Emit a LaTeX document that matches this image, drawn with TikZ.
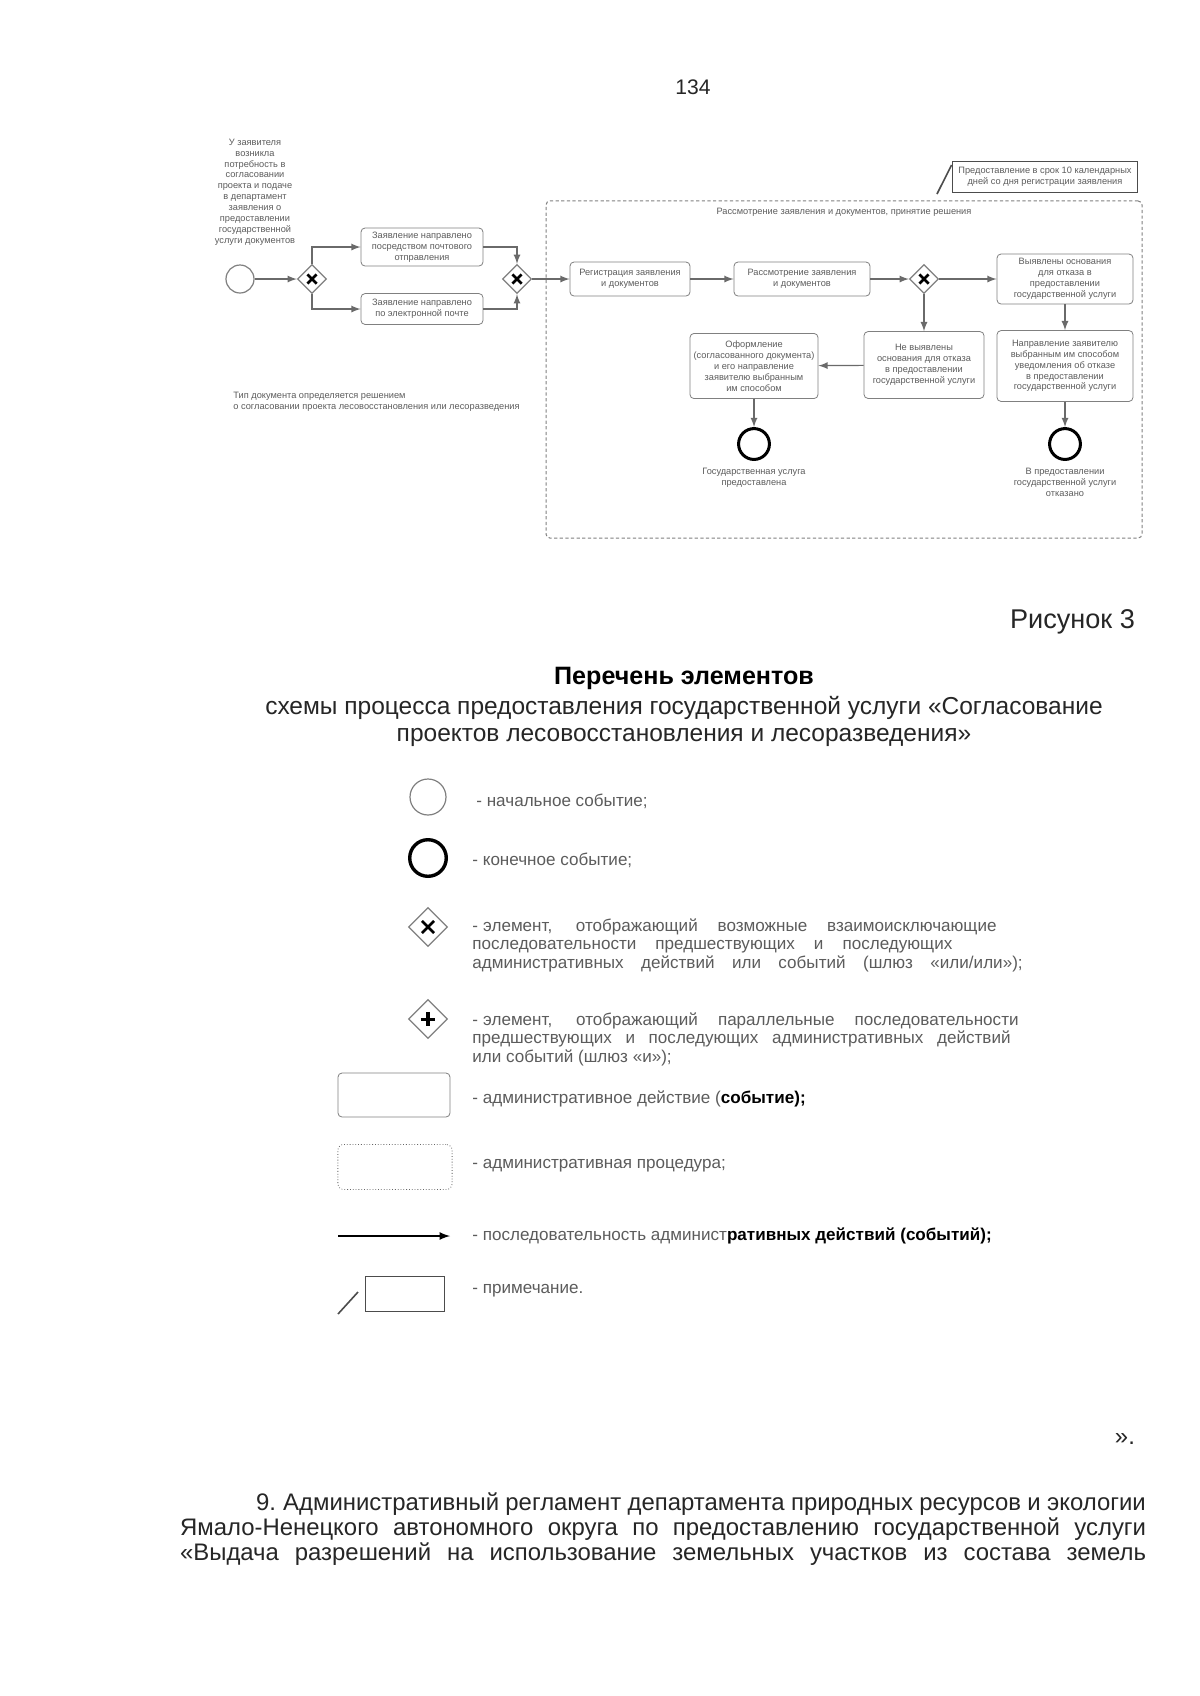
\documentclass[tikz,border=0pt]{standalone}
\usepackage{fontspec}
\setmainfont{Liberation Sans}
\usetikzlibrary{positioning,shapes.geometric}
\definecolor{linegray}{HTML}{6A6A6A}
\definecolor{textgray}{HTML}{5C5C5C}
\newcommand{\tinytext}{\fontsize{4.6}{5.4}\selectfont}
\newcommand{\legtext}{\fontsize{8.5}{9.2}\selectfont}
\newcommand{\bodytext}{\fontsize{11.9}{12.4}\selectfont}
\tikzset{task/.style={draw=gray,rounded corners=2pt,align=center,font=\tinytext,text=textgray,inner sep=1pt},
  startev/.style={circle,draw=gray,line width=0.6pt,inner sep=0pt},
  endev/.style={circle,draw=black,line width=1.5pt,inner sep=0pt},
  xgate/.style={diamond,draw=gray,line width=0.6pt,inner sep=0pt,aspect=1,
    path picture={\draw[black,line width=1.3pt]
      ([shift={(-#1,-#1)}]path picture bounding box.center) -- ([shift={(#1,#1)}]path picture bounding box.center)
      ([shift={(-#1,#1)}]path picture bounding box.center) -- ([shift={(#1,-#1)}]path picture bounding box.center);}},
  xgate/.default=2.3pt,
  pgate/.style={diamond,draw=gray,line width=0.6pt,inner sep=0pt,aspect=1,
    path picture={\draw[black,line width=1.5pt]
      ([xshift=-3.6pt]path picture bounding box.center) -- ([xshift=3.6pt]path picture bounding box.center)
      ([yshift=3.6pt]path picture bounding box.center) -- ([yshift=-3.6pt]path picture bounding box.center);}},
  flow/.style={-latex,draw=linegray,line width=0.6pt},
  proc/.style={draw=gray,dash pattern=on 1.6pt off 1.2pt,rounded corners=2pt,line width=0.5pt},
  notebox/.style={draw=black!70,line width=0.6pt,align=center,font=\tinytext,text=textgray,inner sep=1pt},
  smalltext/.style={font=\tinytext,text=textgray,align=center,inner sep=0pt},
  legline/.style={anchor=west,font=\legtext,text=textgray,inner sep=0pt,align=left}
}

\begin{document}
\begin{tikzpicture}[x=0.175mm,y=-0.175mm]
  \fill[white] (0,0) rectangle (1200,1696);
  \useasboundingbox (0,0) rectangle (1200,1696);

  % Page number
  \node[font=\fontsize{10.5}{12}\selectfont,text=black!85] (pagenum) at (693,87) {134};

  % Start and first gateway
  \node[smalltext] (intent) at (255,192) {У заявителя\\возникла\\потребность в\\согласовании\\проекта и подаче\\в департамент\\заявления о\\предоставлении\\государственной\\услуги документов};
  \node[startev,minimum size=4.9mm] (start) at (240,279) {};
  \node[xgate,minimum size=5.1mm] (gw1) at (312,279) {};
  \node[task,minimum width=21.35mm,minimum height=6.65mm] (mail) at (422,247) {Заявление направлено\\посредством почтового\\отправления};
  \node[task,minimum width=21.35mm,minimum height=5.4mm] (email) at (422,309) {Заявление направлено\\по электронной почте};
  \node[xgate,minimum size=5.1mm] (gw2) at (517,279) {};

  \node[anchor=north west,smalltext,align=left] (remark) at (233,392) {Тип документа определяется решением\\о согласовании проекта лесовосстановления или лесоразведения};

  % Procedure
  \node[proc,minimum width=104.3mm,minimum height=59mm] (procbox) at (844,369.5) {};
  \node[smalltext] (proclabel) at (844,212) {Рассмотрение заявления и документов, принятие решения};
  \node[notebox,minimum width=32.5mm,minimum height=5.4mm] (note) at (1045,177) {Предоставление в срок 10 календарных\\дней со дня регистрации заявления};
  \coordinate (notetail) at (937,194);

  \node[task,minimum width=21mm,minimum height=5.95mm] (reg) at (630,279) {Регистрация заявления\\и документов};
  \node[task,minimum width=23.8mm,minimum height=5.95mm] (review) at (802,279) {Рассмотрение заявления\\и документов};
  \node[xgate,minimum size=5.1mm] (gw3) at (924,279) {};
  \node[task,minimum width=23.8mm,minimum height=8.75mm] (found) at (1065,279) {Выявлены основания\\для отказа в\\предоставлении\\государственной услуги};
  \node[task,minimum width=23.8mm,minimum height=12.4mm] (refuse) at (1065,366) {Направление заявителю\\выбранным им способом\\уведомления об отказе\\в предоставлении\\государственной услуги};
  \node[task,minimum width=21mm,minimum height=11.7mm] (notfound) at (924,365) {Не выявлены\\основания для отказа\\в предоставлении\\государственной услуги};
  \node[task,minimum width=22.4mm,minimum height=11.4mm] (issue) at (754,366) {Оформление\\(согласованного документа)\\и его направление\\заявителю выбранным\\им способом};
  \node[endev,minimum size=5.4mm] (end1) at (754,444) {};
  \node[endev,minimum size=5.4mm] (end2) at (1065,444) {};
  \node[smalltext,below=1.2mm of end1] (end1lab) {Государственная услуга\\предоставлена};
  \node[smalltext,below=1.2mm of end2] (end2lab) {В предоставлении\\государственной услуги\\отказано};

  % Flows
  \draw[flow] (start) -- (gw1);
  \draw[flow] (gw1.north) |- (mail.west);
  \draw[flow] (gw1.south) |- (email.west);
  \draw[flow] (mail.east) -| (gw2.north);
  \draw[flow] (email.east) -| (gw2.south);
  \draw[flow] (gw2) -- (reg);
  \draw[flow] (reg) -- (review);
  \draw[flow] (review) -- (gw3);
  \draw[flow] (gw3) -- (found);
  \draw[flow] (gw3) -- (notfound);
  \draw[flow] (found) -- (refuse);
  \draw[flow] (notfound) -- (issue);
  \draw[flow] (issue) -- (end1);
  \draw[flow] (refuse) -- (end2);
  \draw[black!70,line width=0.8pt] (notetail) -- ([yshift=-2pt]note.north west);

  % Caption and title
  \node[anchor=east,font=\fontsize{13.5}{16}\selectfont,text=black!85] (figno) at (1142,622) {Рисунок 3};
  \node[font=\fontsize{12.5}{15}\selectfont\bfseries] (title) at (684,678) {Перечень элементов};
  \node[font=\fontsize{12.2}{15}\selectfont,text=black!85] (sub1) at (684,708) {схемы процесса предоставления государственной услуги «Согласование};
  \node[font=\fontsize{12.2}{15}\selectfont,text=black!85] (sub2) at (684,737) {проектов лесовосстановления и лесоразведения»};

  % Legend
  \node[startev,minimum size=6.3mm] (lstart) at (428,797) {};
  \node[endev,line width=1.7pt,minimum size=6.4mm] (lend) at (428,858) {};
  \node[xgate=3pt,minimum size=6.8mm] (lxor) at (428,927) {};
  \node[pgate,minimum size=6.8mm] (land) at (428,1019) {};
  \node[draw=gray,rounded corners=2pt,minimum width=19.6mm,minimum height=7.7mm] (ltask) at (394,1095) {};
  \node[draw=black!60,densely dotted,rounded corners=3pt,minimum width=20mm,minimum height=7.9mm] (lproc) at (395,1167) {};
  \coordinate (larrowa) at (338,1236);
  \coordinate (larrowb) at (450,1236);
  \draw[-latex,black,line width=0.8pt] (larrowa) -- (larrowb);
  \node[draw=black!70,line width=0.6pt,minimum width=13.7mm,minimum height=6mm] (lnote) at (405,1294) {};
  \coordinate (lnotea) at (338,1314);
  \coordinate (lnoteb) at (358,1292);
  \draw[black!70,line width=0.8pt] (lnotea) -- (lnoteb);

  \node[legline] (tstart) at (476,801) {- начальное событие;};
  \node[legline] (tend) at (472,860) {- конечное событие;};
  \node[legline] (txor) at (472,945) {\makebox[261pt][s]{-\hspace{0.3em}элемент, отображающий возможные взаимоисключающие}\\
    \makebox[239pt][s]{последовательности предшествующих и последующих}\\
    \makebox[274pt][s]{административных действий или событий (шлюз «или/или»);}};
  \node[legline] (tand) at (472,1039) {\makebox[272pt][s]{-\hspace{0.3em}элемент, отображающий параллельные последовательности}\\
    \makebox[268pt][s]{предшествующих и последующих административных действий}\\
    или событий (шлюз «и»);};
  \node[legline] (ttask) at (472,1099) {- административное действие (\textcolor{black}{\bfseries событие);}};
  \node[legline] (tproc) at (472,1166) {- административная процедура;};
  \node[legline] (tarrow) at (472,1236) {- последовательность админист\textcolor{black}{\bfseries ративных действий (событий);}};
  \node[legline] (tnote) at (472,1291) {- примечание.};

  % Following text
  \node[anchor=east,font=\bodytext,text=black!85] (quoteend) at (1142,1439) {».};
  \node[anchor=west,font=\bodytext,text=black!85] (body1) at (249,1504) {\makebox[443pt][s]{9.\hspace{0.3em}Административный регламент департамента природных ресурсов и экологии}};
  \node[anchor=west,font=\bodytext,text=black!85] (body2) at (173,1529) {\makebox[481pt][s]{Ямало-Ненецкого автономного округа по предоставлению государственной услуги}};
  \node[anchor=west,font=\bodytext,text=black!85] (body3) at (173,1554) {\makebox[481pt][s]{«Выдача разрешений на использование земельных участков из состава земель}};

\end{tikzpicture}
\end{document}
